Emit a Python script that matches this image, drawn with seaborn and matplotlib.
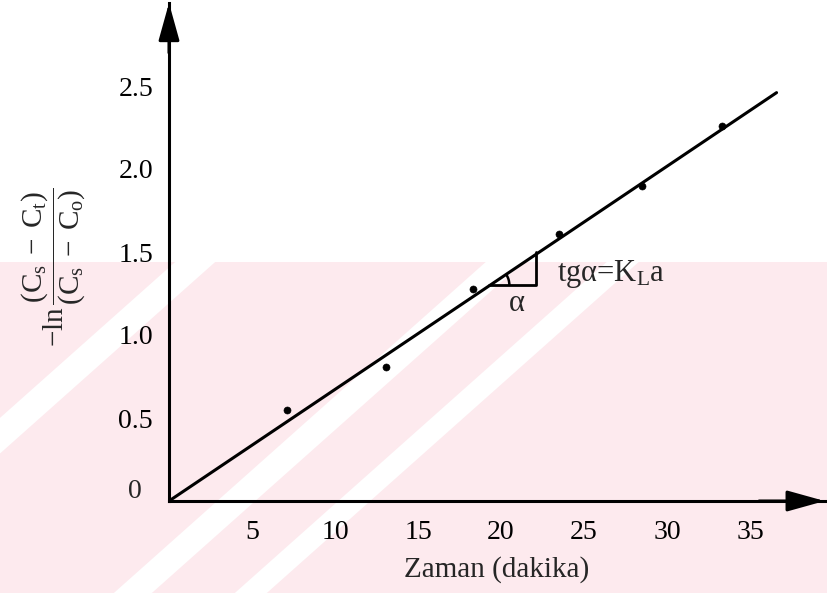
import numpy as np
import pandas as pd
import matplotlib.pyplot as plt
import seaborn as sns
from matplotlib.patches import Arc, Polygon

# ----------------------------------------------------------
# DATA
# ----------------------------------------------------------

zaman = [7.1, 13.1, 18.3, 23.5, 28.5, 33.3]           # dakika
ln_orani = [0.55, 0.81, 1.28, 1.61, 1.90, 2.26]       # -ln((Cs-Ct)/(Cs-Co))

fit_x = [0.0, 36.6]
fit_y = [0.0, 2.46]

x_ticks = [5, 10, 15, 20, 25, 30, 35]
y_ticks = [0.5, 1.0, 1.5, 2.0, 2.5]
y_tick_labels = ["0.5", "1.0", "1.5", "2.0", "2.5"]

# slope triangle (tg alpha = KLa)
tri_x = [19.3, 22.1, 22.1]
tri_y = [1.30, 1.30, 1.50]

# ----------------------------------------------------------
# STYLE
# ----------------------------------------------------------

sns.set_style("white")
plt.rcParams["font.family"] = ["Liberation Serif", "DejaVu Serif"]
plt.rcParams["mathtext.fontset"] = "custom"
plt.rcParams["mathtext.rm"] = "Liberation Serif"
plt.rcParams["mathtext.it"] = "Liberation Serif:italic"

W, H = 827, 593
fig = plt.figure(figsize=(8.27, 5.93), dpi=100)
fig.patch.set_facecolor("white")


def px(x, y):
    # pixel (top-left origin) -> figure fraction
    return (x / W, 1 - y / H)


# faint pink watermark in the lower part of the scan
PINK = "#fdeaee"
fig.add_artist(Polygon([px(0, 262), px(W, 262), px(W, H), px(0, H)],
                       closed=True, transform=fig.transFigure,
                       facecolor=PINK, edgecolor="none", zorder=-2))


def white_band(cx, cy, width, k=0.89):
    # "/" band through (cx, cy), k = rise per pixel to the right
    def xc(y):
        return cx + (cy - y) / k
    verts = [px(xc(262) - width / 2, 262), px(xc(262) + width / 2, 262),
             px(xc(H) + width / 2, H), px(xc(H) - width / 2, H)]
    fig.add_artist(Polygon(verts, closed=True, transform=fig.transFigure,
                           facecolor="white", edgecolor="none", zorder=-1))


for cx, cy, w in [(316, 430, 38), (416, 446, 32), (130, 320, 40)]:
    white_band(cx, cy, w)

# 16.6 px per minute, 166 px per unit on y
ax = fig.add_axes([169 / W, 92 / H, 39.5 * 16.6 / W, 3.0 * 166 / H])
ax.set_facecolor("none")

pts = pd.DataFrame({"zaman": zaman, "ln": ln_orani})
fit = pd.DataFrame({"zaman": fit_x, "ln": fit_y})

sns.lineplot(data=fit, x="zaman", y="ln", color="black", lw=2.2, ax=ax)
sns.scatterplot(data=pts, x="zaman", y="ln", color="black", s=26,
                edgecolor="black", ax=ax, zorder=5)

ax.set_xlim(0, 39.5)
ax.set_ylim(0, 3.0)

# axes with arrows
for side in ["top", "right"]:
    ax.spines[side].set_visible(False)
for side in ["left", "bottom"]:
    ax.spines[side].set_linewidth(2.2)
    ax.spines[side].set_color("black")

arrow = dict(arrowstyle="-|>,head_length=1.15,head_width=0.32",
             mutation_scale=20, color="black", lw=2.2,
             shrinkA=0, shrinkB=0)
ax.annotate("", xy=(0, 1.0), xytext=(0, 0.9), xycoords="axes fraction",
            arrowprops=arrow, annotation_clip=False)
ax.annotate("", xy=(1.0, 0), xytext=(0.9, 0), xycoords="axes fraction",
            arrowprops=arrow, annotation_clip=False)

ax.set_xticks(x_ticks)
ax.set_xticklabels([str(t) for t in x_ticks])
ax.set_yticks(y_ticks)
ax.set_yticklabels(y_tick_labels)
ax.tick_params(axis="both", direction="inout", length=15, width=2,
               labelsize=20, color="black", labelcolor="black")
ax.tick_params(axis="y", pad=4)
ax.tick_params(axis="x", pad=6)

ax.set_xlabel("Zaman (dakika)", fontsize=21, labelpad=8)
ax.set_ylabel("")
fig.text(*px(135, 492), "0", fontsize=20, ha="center", va="center")

fig.text(*px(53, 267),
         r"$-\ln\dfrac{(\mathrm{C_s\;-\;C_t})}{(\mathrm{C_s\;-\;C_o})}$",
         rotation=90, fontsize=21, ha="center", va="center")

# slope triangle and labels
ax.plot(tri_x, tri_y, color="black", lw=2)
r_px = 20
ang = np.degrees(np.arctan2(fit_y[1], fit_x[1]))   # angle in data units
ax.add_patch(Arc((tri_x[0], tri_y[0]), 2 * r_px / 16.6, 2 * r_px / 166,
                 theta1=0, theta2=ang, color="black", lw=1.8))
ax.text(20.96, 1.19, "α", fontsize=22, ha="center", va="center")
ax.text(23.4, 1.37, r"tgα=K$_{\mathrm{L}}$a", fontsize=22,
        ha="left", va="center")

fig.savefig("out.png", dpi=100)
